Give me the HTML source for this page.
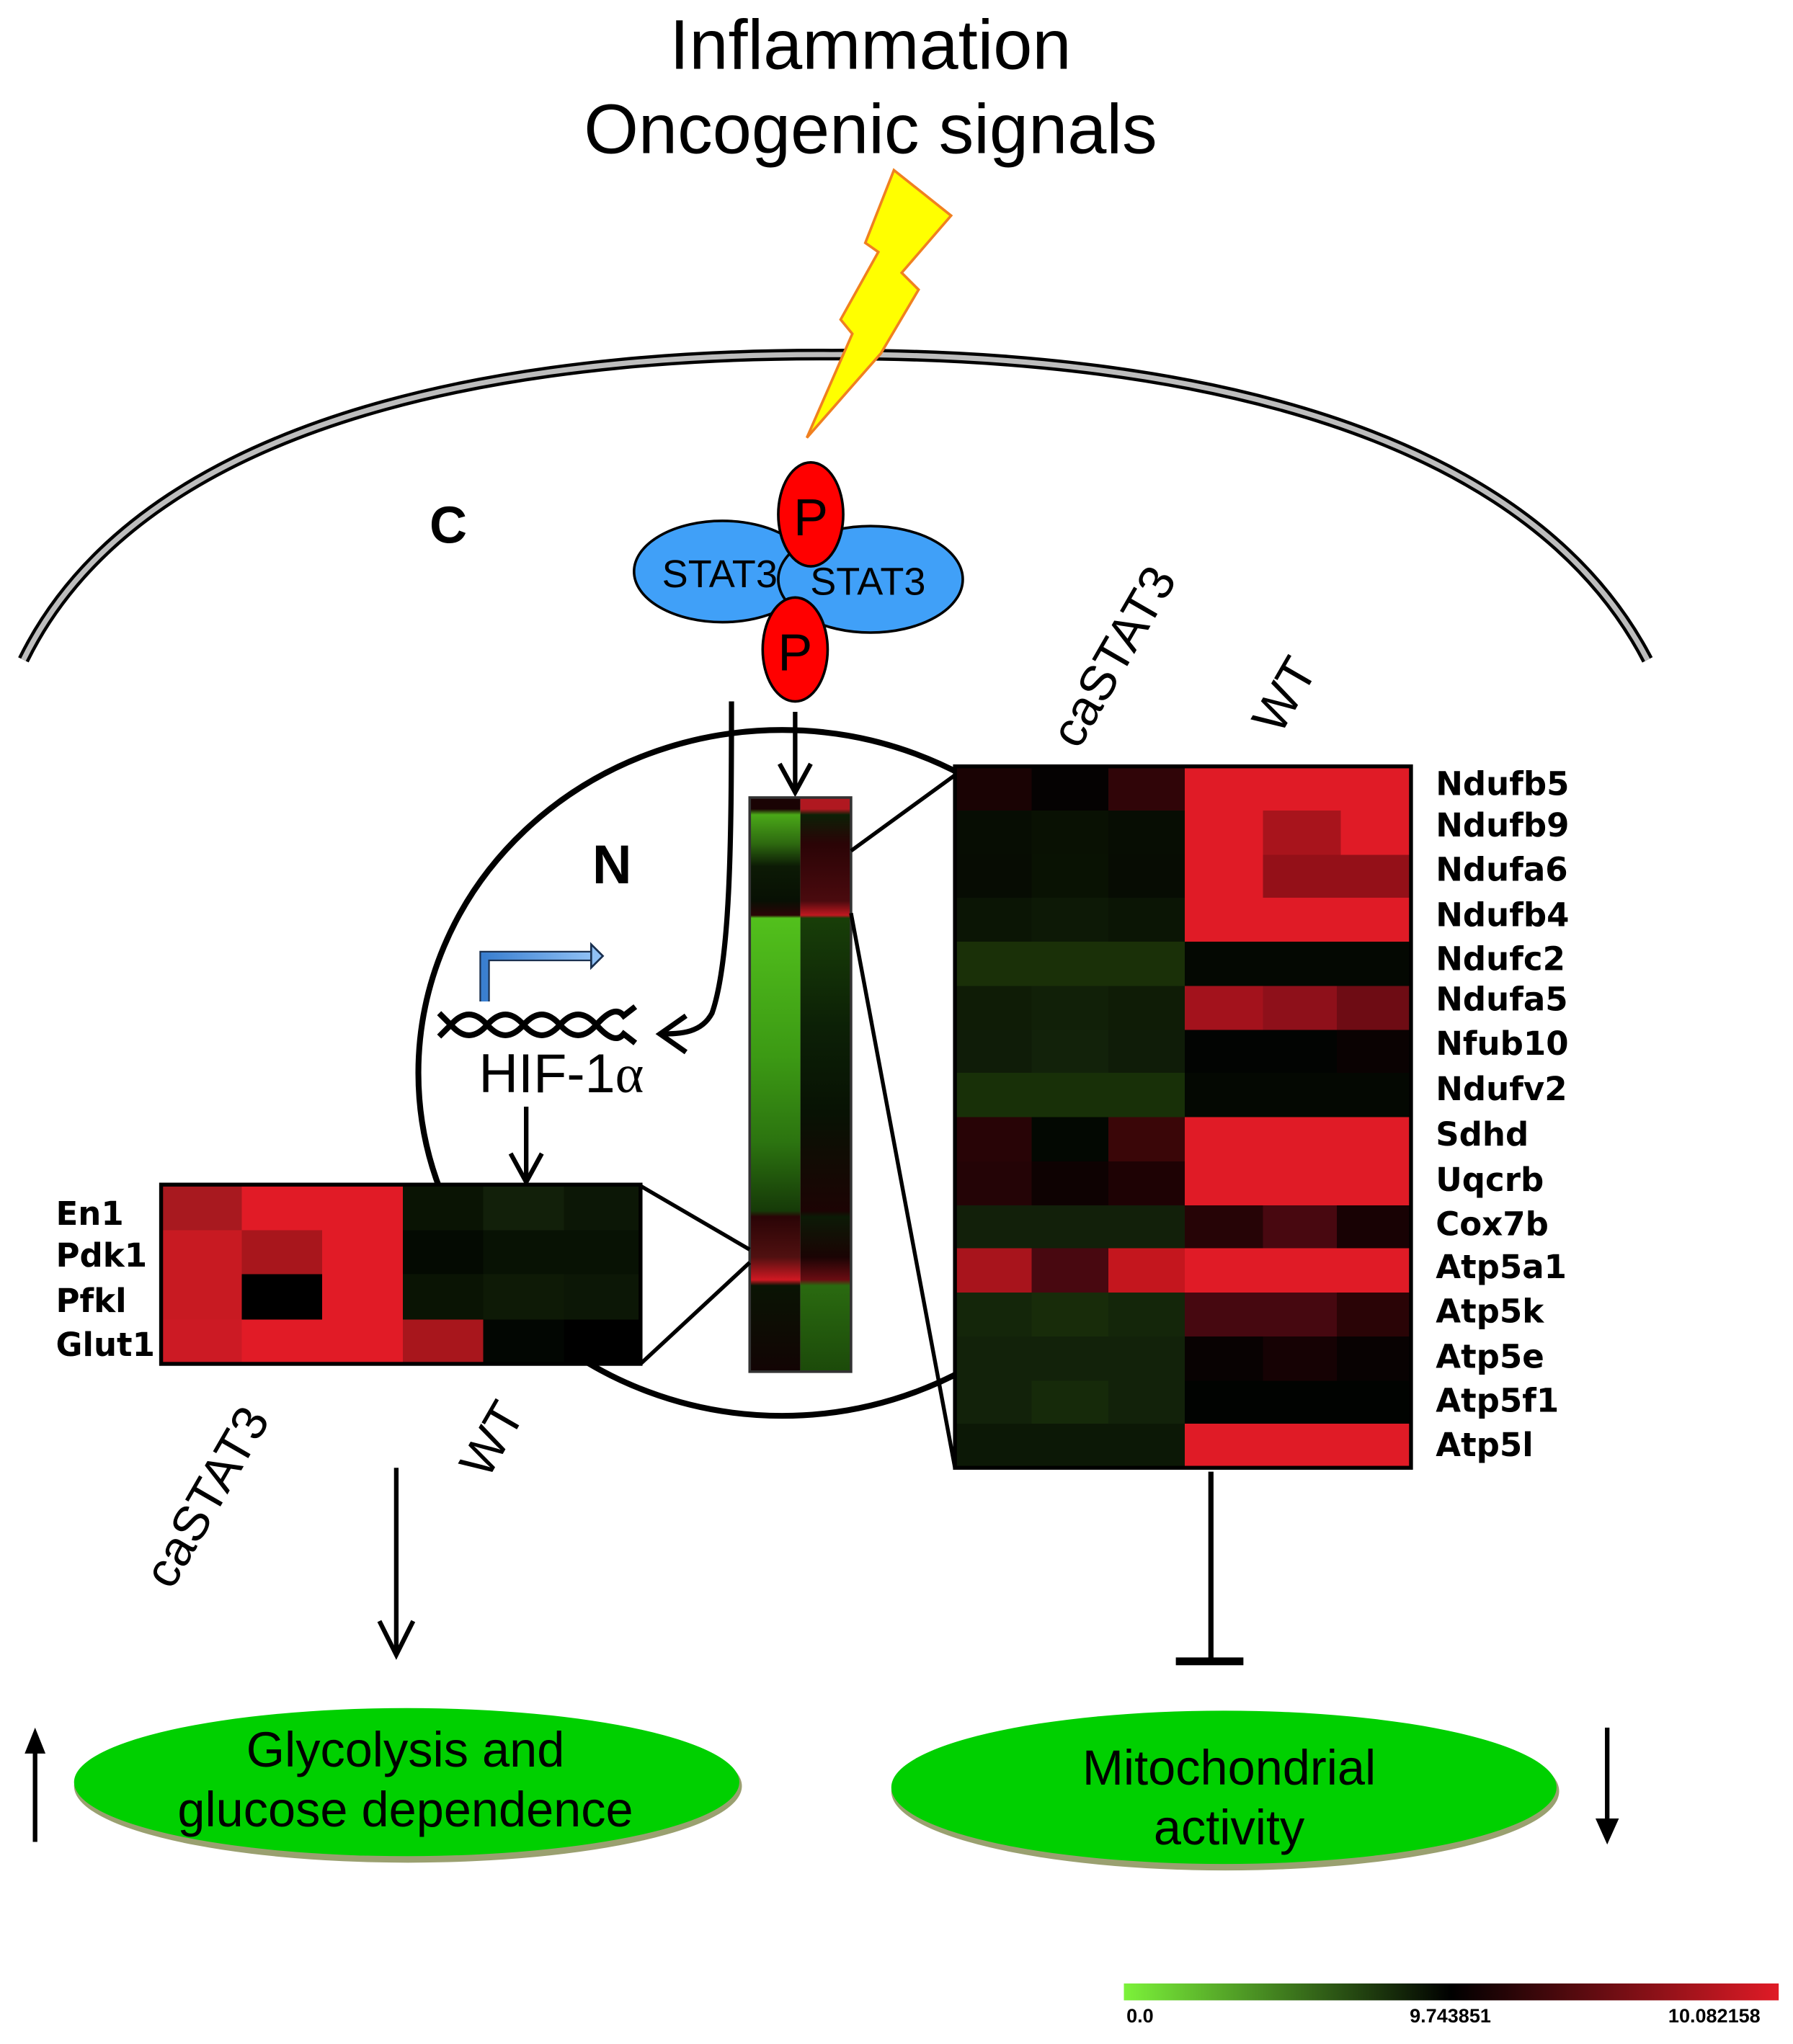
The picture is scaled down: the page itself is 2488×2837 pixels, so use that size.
<!DOCTYPE html>
<html><head><meta charset="utf-8"><style>html,body{margin:0;padding:0;background:#fff}svg{display:block}</style></head>
<body>
<svg xmlns="http://www.w3.org/2000/svg" width="2488" height="2837" viewBox="0 0 1380 1573.6" preserveAspectRatio="none" font-family="Liberation Sans, sans-serif">
<defs>
<linearGradient id="cb" x1="0" x2="1" y1="0" y2="0"><stop offset="0" stop-color="#7cf23a"/><stop offset="0.5" stop-color="#000"/><stop offset="1" stop-color="#e01b26"/></linearGradient>
<linearGradient id="ba" x1="0" x2="1"><stop offset="0" stop-color="#3a7fd0"/><stop offset="1" stop-color="#8fc0f5"/></linearGradient>
<linearGradient id="s1" x1="0" y1="0" x2="0" y2="1">
<stop offset="0" stop-color="#1a0304"/><stop offset="0.02" stop-color="#1a0304"/><stop offset="0.03" stop-color="#4aa818"/><stop offset="0.08" stop-color="#2e6a10"/><stop offset="0.12" stop-color="#0c1a05"/><stop offset="0.18" stop-color="#081004"/><stop offset="0.205" stop-color="#2a0406"/>
<stop offset="0.21" stop-color="#52c01c"/><stop offset="0.45" stop-color="#3c9a14"/><stop offset="0.6" stop-color="#2c7410"/><stop offset="0.72" stop-color="#163a08"/>
<stop offset="0.73" stop-color="#2a0406"/><stop offset="0.8" stop-color="#501010"/><stop offset="0.84" stop-color="#d01822"/><stop offset="0.85" stop-color="#0a1404"/><stop offset="1" stop-color="#120404"/></linearGradient>
<linearGradient id="s2" x1="0" y1="0" x2="0" y2="1">
<stop offset="0" stop-color="#b01820"/><stop offset="0.02" stop-color="#b01820"/><stop offset="0.03" stop-color="#0c2006"/><stop offset="0.08" stop-color="#2a0406"/><stop offset="0.18" stop-color="#4a0a0e"/><stop offset="0.205" stop-color="#c01820"/>
<stop offset="0.21" stop-color="#183e08"/><stop offset="0.4" stop-color="#0c2006"/><stop offset="0.55" stop-color="#081204"/><stop offset="0.72" stop-color="#1c0404"/>
<stop offset="0.73" stop-color="#0c1a06"/><stop offset="0.8" stop-color="#1a0404"/><stop offset="0.84" stop-color="#6a0c12"/><stop offset="0.85" stop-color="#2a6a10"/><stop offset="1" stop-color="#1c4a0a"/></linearGradient>
</defs>

<text x="670" y="53" font-size="54" text-anchor="middle">Inflammation</text>
<text x="670" y="118" font-size="54" text-anchor="middle">Oncogenic signals</text>

<!-- membrane -->
<path d="M18,508 C120,300 450,272 640,273 C830,272 1160,300 1268,508" fill="none" stroke="#000" stroke-width="9"/>
<path d="M18,508 C120,300 450,272 640,273 C830,272 1160,300 1268,508" fill="none" stroke="#bdbdbd" stroke-width="4"/>

<!-- lightning -->
<polygon points="688,131 732,166 694,210 707,223 678,272 621,337 656,257 647,246 676,194 666,187" fill="#ffff00" stroke="#f08020" stroke-width="2"/>

<text x="345" y="418" font-size="40" font-weight="bold" text-anchor="middle">C</text>

<!-- STAT3 -->
<ellipse cx="556" cy="440" rx="68" ry="39" fill="#40a0f8" stroke="#000" stroke-width="2"/>
<ellipse cx="670" cy="446" rx="71" ry="41" fill="#40a0f8" stroke="#000" stroke-width="2"/>
<text x="554" y="452" font-size="30" text-anchor="middle">STAT3</text>
<text x="668" y="458" font-size="30" text-anchor="middle">STAT3</text>
<ellipse cx="624" cy="396" rx="25" ry="40" fill="#ff0000" stroke="#000" stroke-width="2"/>
<text x="624" y="412" font-size="40" text-anchor="middle">P</text>
<ellipse cx="612" cy="500" rx="25" ry="40" fill="#ff0000" stroke="#000" stroke-width="2"/>
<text x="612" y="516" font-size="40" text-anchor="middle">P</text>

<!-- nucleus -->
<ellipse cx="602" cy="826" rx="280" ry="264" fill="none" stroke="#000" stroke-width="4.5"/>
<text x="471" y="680" font-size="42" font-weight="bold" text-anchor="middle">N</text>

<!-- arrows in nucleus -->
<path d="M563,540 C563,650 562,740 548,780 C540,795 525,796 508,796" fill="none" stroke="#000" stroke-width="4"/>
<path d="M528,782 L508,796 L528,810" fill="none" stroke="#000" stroke-width="4"/>
<line x1="612" y1="548" x2="612" y2="608" stroke="#000" stroke-width="3.5"/>
<path d="M600,588 L612,610 L624,588" fill="none" stroke="#000" stroke-width="3.5"/>

<!-- strip -->
<rect x="577" y="614" width="39" height="442" fill="url(#s1)"/>
<rect x="616" y="614" width="39" height="442" fill="url(#s2)"/>
<rect x="577" y="614" width="78" height="442" fill="none" stroke="#333" stroke-width="2"/>

<!-- connectors -->
<line x1="655" y1="655" x2="736" y2="596" stroke="#000" stroke-width="3"/>
<line x1="655" y1="703" x2="735" y2="1130" stroke="#000" stroke-width="3"/>
<line x1="577" y1="962" x2="493" y2="913" stroke="#000" stroke-width="3"/>
<line x1="577" y1="972" x2="493" y2="1050" stroke="#000" stroke-width="3"/>

<!-- gene promoter -->
<path d="M373,771 L373,736 L455,736" fill="none" stroke="#1a3050" stroke-width="8"/>
<path d="M373,771 L373,736 L455,736" fill="none" stroke="url(#ba)" stroke-width="5.5"/>
<polygon points="455,727 464,736 455,745" fill="#8fc0f5" stroke="#1a3050" stroke-width="1.5"/>
<path d="M338,780 L347,789 Q361,773 375,789 Q389,773 403,789 Q417,773 431,789 Q445,773 459,789 Q473,773 480,782 L489,775" fill="none" stroke="#000" stroke-width="4.5"/>
<path d="M338,798 L347,789 Q361,805 375,789 Q389,805 403,789 Q417,805 431,789 Q445,805 459,789 Q473,805 480,796 L489,803" fill="none" stroke="#000" stroke-width="4.5"/>
<text x="432" y="841" font-size="42" text-anchor="middle">HIF-1<tspan font-family="Liberation Serif, serif">α</tspan></text>
<line x1="405" y1="852" x2="405" y2="908" stroke="#000" stroke-width="3.5"/>
<path d="M393,888 L405,910 L417,888" fill="none" stroke="#000" stroke-width="3.5"/>

<!-- left heatmap -->
<g shape-rendering="crispEdges">
<rect x="124" y="912" width="62" height="35" fill="#a8191f"/><rect x="186" y="912" width="62" height="35" fill="#e11b26"/><rect x="248" y="912" width="62" height="35" fill="#e11b26"/><rect x="310" y="912" width="62" height="35" fill="#0a1404"/><rect x="372" y="912" width="62" height="35" fill="#12200a"/><rect x="434" y="912" width="59" height="35" fill="#0c1706"/>
<rect x="124" y="947" width="62" height="34" fill="#c81a22"/><rect x="186" y="947" width="62" height="34" fill="#a8161c"/><rect x="248" y="947" width="62" height="34" fill="#e11b26"/><rect x="310" y="947" width="62" height="34" fill="#040a02"/><rect x="372" y="947" width="62" height="34" fill="#081204"/><rect x="434" y="947" width="59" height="34" fill="#081204"/>
<rect x="124" y="981" width="62" height="35" fill="#c81a22"/><rect x="186" y="981" width="62" height="35" fill="#000"/><rect x="248" y="981" width="62" height="35" fill="#e11b26"/><rect x="310" y="981" width="62" height="35" fill="#0a1404"/><rect x="372" y="981" width="62" height="35" fill="#0e1a06"/><rect x="434" y="981" width="59" height="35" fill="#0c1706"/>
<rect x="124" y="1016" width="62" height="34" fill="#cc1a24"/><rect x="186" y="1016" width="62" height="34" fill="#e11b26"/><rect x="248" y="1016" width="62" height="34" fill="#e11b26"/><rect x="310" y="1016" width="62" height="34" fill="#a8161c"/><rect x="372" y="1016" width="62" height="34" fill="#020602"/><rect x="434" y="1016" width="59" height="34" fill="#000"/>
</g>
<rect x="124" y="912" width="369" height="138" fill="none" stroke="#000" stroke-width="3"/>
<g font-size="25" font-weight="bold" font-family="DejaVu Sans, sans-serif">
<text x="43" y="943">En1</text><text x="43" y="975">Pdk1</text><text x="43" y="1010">Pfkl</text><text x="43" y="1044">Glut1</text>
</g>
<text transform="translate(132,1225) rotate(-60)" font-size="38">caSTAT3</text>
<text transform="translate(375,1140) rotate(-60)" font-size="38">WT</text>
<text transform="translate(830,578) rotate(-60)" font-size="38">caSTAT3</text>
<text transform="translate(985,567) rotate(-60)" font-size="38">WT</text>

<!-- right heatmap -->
<g shape-rendering="crispEdges">
<g transform="translate(735,590)">
<rect x="0" y="0" width="59" height="34" fill="#1a0304"/><rect x="59" y="0" width="59" height="34" fill="#050202"/><rect x="118" y="0" width="59" height="34" fill="#300508"/><rect x="177" y="0" width="174" height="34" fill="#e01b26"/>
<rect x="0" y="34" width="177" height="34" fill="#070d03"/><rect x="59" y="34" width="59" height="34" fill="#091103"/><rect x="177" y="34" width="174" height="34" fill="#e01b26"/><rect x="237" y="34" width="60" height="34" fill="#a8141c"/>
<rect x="0" y="68" width="177" height="34" fill="#070c03"/><rect x="59" y="68" width="59" height="34" fill="#091203"/><rect x="177" y="68" width="60" height="34" fill="#e01b26"/><rect x="237" y="68" width="114" height="34" fill="#941018"/>
<rect x="0" y="101" width="177" height="34" fill="#0b1505"/><rect x="59" y="101" width="59" height="34" fill="#0d1906"/><rect x="177" y="101" width="174" height="34" fill="#e01b26"/>
<rect x="0" y="135" width="177" height="34" fill="#1a3008"/><rect x="177" y="135" width="174" height="34" fill="#040802"/>
<rect x="0" y="169" width="177" height="34" fill="#0f1c06"/><rect x="59" y="169" width="59" height="34" fill="#112008"/><rect x="177" y="169" width="60" height="34" fill="#a3121c"/><rect x="237" y="169" width="57" height="34" fill="#8e101a"/><rect x="294" y="169" width="57" height="34" fill="#6e0c14"/>
<rect x="0" y="203" width="177" height="34" fill="#0f1c08"/><rect x="59" y="203" width="59" height="34" fill="#12220a"/><rect x="177" y="203" width="174" height="34" fill="#020402"/><rect x="294" y="203" width="57" height="34" fill="#0a0202"/>
<rect x="0" y="236" width="177" height="34" fill="#183008"/><rect x="177" y="236" width="174" height="34" fill="#040802"/>
<rect x="0" y="270" width="59" height="34" fill="#280406"/><rect x="59" y="270" width="59" height="34" fill="#030802"/><rect x="118" y="270" width="59" height="34" fill="#3a0608"/><rect x="177" y="270" width="174" height="68" fill="#e01b26"/>
<rect x="0" y="304" width="59" height="34" fill="#240406"/><rect x="59" y="304" width="59" height="34" fill="#0e0202"/><rect x="118" y="304" width="59" height="34" fill="#1e0204"/>
<rect x="0" y="338" width="177" height="34" fill="#12200a"/><rect x="177" y="338" width="60" height="34" fill="#260406"/><rect x="237" y="338" width="57" height="34" fill="#480810"/><rect x="294" y="338" width="57" height="34" fill="#180204"/>
<rect x="0" y="371" width="59" height="34" fill="#a8141c"/><rect x="59" y="371" width="59" height="34" fill="#480810"/><rect x="118" y="371" width="59" height="34" fill="#c4161e"/><rect x="177" y="371" width="174" height="34" fill="#e01b26"/>
<rect x="0" y="405" width="177" height="34" fill="#14260a"/><rect x="59" y="405" width="59" height="34" fill="#182c0a"/><rect x="177" y="405" width="117" height="34" fill="#460810"/><rect x="294" y="405" width="57" height="34" fill="#2a0406"/>
<rect x="0" y="439" width="177" height="34" fill="#12220a"/><rect x="177" y="439" width="174" height="34" fill="#080202"/><rect x="237" y="439" width="57" height="34" fill="#160204"/>
<rect x="0" y="473" width="177" height="34" fill="#12220a"/><rect x="59" y="473" width="59" height="34" fill="#162a0a"/><rect x="177" y="473" width="174" height="34" fill="#010301"/>
<rect x="0" y="506" width="177" height="34" fill="#0c1806"/><rect x="177" y="506" width="174" height="34" fill="#e01b26"/>
</g>
</g>
<rect x="735" y="590" width="351" height="540" fill="none" stroke="#000" stroke-width="3"/>
<g font-size="25" font-weight="bold" font-family="DejaVu Sans, sans-serif">
<text x="1105" y="612">Ndufb5</text><text x="1105" y="644">Ndufb9</text><text x="1105" y="678">Ndufa6</text><text x="1105" y="713">Ndufb4</text>
<text x="1105" y="747">Ndufc2</text><text x="1105" y="778">Ndufa5</text><text x="1105" y="812">Nfub10</text><text x="1105" y="847">Ndufv2</text>
<text x="1105" y="882">Sdhd</text><text x="1105" y="917">Uqcrb</text><text x="1105" y="951">Cox7b</text><text x="1105" y="984">Atp5a1</text>
<text x="1105" y="1018">Atp5k</text><text x="1105" y="1053">Atp5e</text><text x="1105" y="1087">Atp5f1</text><text x="1105" y="1121">Atp5l</text>
</g>

<!-- bottom arrows -->
<line x1="305" y1="1130" x2="305" y2="1272" stroke="#000" stroke-width="3.5"/>
<path d="M292,1248 L305,1274 L318,1248" fill="none" stroke="#000" stroke-width="3.5"/>
<line x1="932" y1="1133" x2="932" y2="1278" stroke="#000" stroke-width="4"/>
<rect x="905" y="1276" width="52" height="6" fill="#000"/>

<!-- ellipses -->
<ellipse cx="314" cy="1375" rx="257" ry="59" fill="#9aa070"/>
<ellipse cx="313" cy="1372" rx="256" ry="57" fill="#00d000"/>
<text x="312" y="1360" font-size="38" text-anchor="middle">Glycolysis and</text>
<text x="312" y="1406" font-size="38" text-anchor="middle">glucose dependence</text>
<ellipse cx="943" cy="1379" rx="257" ry="61" fill="#9aa070"/>
<ellipse cx="942" cy="1376" rx="256" ry="59" fill="#00d000"/>
<text x="946" y="1374" font-size="38" text-anchor="middle">Mitochondrial</text>
<text x="946" y="1420" font-size="38" text-anchor="middle">activity</text>

<line x1="27" y1="1418" x2="27" y2="1345" stroke="#000" stroke-width="3.5"/>
<polygon points="19,1350 27,1330 35,1350" fill="#000"/>
<line x1="1237" y1="1330" x2="1237" y2="1405" stroke="#000" stroke-width="3.5"/>
<polygon points="1228,1400 1237,1420 1246,1400" fill="#000"/>

<!-- color bar -->
<rect x="865" y="1527" width="504" height="13" fill="url(#cb)"/>
<g font-size="15" font-weight="bold" font-family="Liberation Sans Narrow, Liberation Sans, sans-serif">
<text x="867" y="1557">0.0</text><text x="1085" y="1557">9.743851</text><text x="1284" y="1557">10.082158</text>
</g>
</svg>
</body></html>
